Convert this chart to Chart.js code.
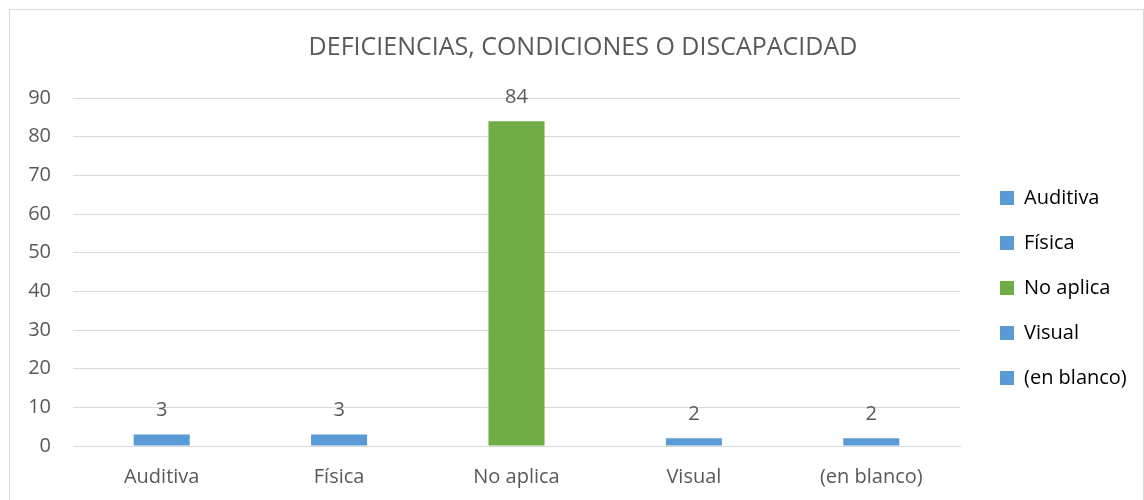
<!doctype html>
<html lang="es">
<head>
  <meta charset="utf-8">
  <title>Deficiencias, condiciones o discapacidad</title>
  <style>
    html, body { margin: 0; padding: 0; background: #ffffff; }
    canvas { display: block; }
  </style>
</head>
<body>
  <canvas id="grafico" width="1144" height="500"></canvas>
  <script src="https://cdn.jsdelivr.net/npm/chart.js"></script>
  <script>
    const categorias = ['Auditiva', 'Física', 'No aplica', 'Visual', '(en blanco)'];
    const cantidades = [3, 3, 84, 2, 2];
    const colores = ['#5b9bd5', '#5b9bd5', '#70ad47', '#5b9bd5', '#5b9bd5'];
    const ejeMax = 90;
    const ejePaso = 10;

    const TEXTO = '#595959';
    const LINEA = '#d9d9d9';
    Chart.defaults.font.family = '"Open Sans", sans-serif';
    Chart.defaults.color = TEXTO;

    // thin frame around the whole chart
    const marco = {
      id: 'marco',
      beforeDraw(chart) {
        const ctx = chart.ctx;
        ctx.save();
        ctx.strokeStyle = LINEA;
        ctx.lineWidth = 1;
        ctx.strokeRect(9.5, 9.5, 1134, 500);
        ctx.restore();
      }
    };

    // value written above each bar
    const etiquetas = {
      id: 'etiquetas',
      afterDatasetsDraw(chart) {
        const ctx = chart.ctx;
        const meta = chart.getDatasetMeta(0);
        ctx.save();
        ctx.font = '20px ' + Chart.defaults.font.family;
        ctx.fillStyle = TEXTO;
        ctx.textAlign = 'center';
        ctx.textBaseline = 'middle';
        meta.data.forEach((bar, i) => {
          ctx.fillText(String(cantidades[i]), bar.x, bar.y - 24);
        });
        ctx.restore();
      }
    };

    // fixed legend width, and move the legend block next to the plot
    const leyendaFija = {
      id: 'leyendaFija',
      beforeLayout(chart) {
        const lg = chart.legend;
        if (lg && !lg._fijada) {
          const fit = lg.fit;
          lg.fit = function () { fit.call(this); this.width = 184; };
          lg._fijada = true;
        }
      },
      afterLayout(chart) {
        const lg = chart.legend;
        lg.left += 15;
        lg.right += 15;
        lg.top += 38;
        lg.bottom += 38;
      }
    };

    new Chart(document.getElementById('grafico'), {
      type: 'bar',
      data: {
        labels: categorias,
        datasets: [{
          data: cantidades,
          backgroundColor: colores,
          categoryPercentage: 1,
          barPercentage: 0.316
        }]
      },
      options: {
        responsive: false,
        animation: false,
        layout: { padding: { left: 22, right: 0, top: 0, bottom: 0 } },
        plugins: {
          title: {
            display: true,
            text: 'DEFICIENCIAS, CONDICIONES O DISCAPACIDAD',
            color: TEXTO,
            font: { size: 25, weight: 'normal' },
            padding: { top: 33, bottom: 35 }
          },
          legend: {
            position: 'right',
            labels: {
              boxWidth: 14,
              boxHeight: 14,
              padding: 25,
              color: TEXTO,
              font: { size: 20 },
              generateLabels: () => categorias.map((c, i) => ({
                text: c,
                fillStyle: colores[i],
                strokeStyle: colores[i],
                lineWidth: 0,
                index: i
              }))
            }
          },
          tooltip: { enabled: false }
        },
        scales: {
          x: {
            grid: { display: false },
            border: { color: LINEA },
            ticks: { color: TEXTO, font: { size: 20 }, padding: 11 },
            afterFit(scale) { scale.height = 54; }
          },
          y: {
            min: 0,
            max: ejeMax,
            grid: { color: LINEA, drawTicks: false },
            border: { display: false },
            ticks: { stepSize: ejePaso, color: TEXTO, font: { size: 20 }, padding: 22 },
            afterFit(scale) { scale.width = 51; }
          }
        }
      },
      plugins: [marco, etiquetas, leyendaFija]
    });
  </script>
</body>
</html>
